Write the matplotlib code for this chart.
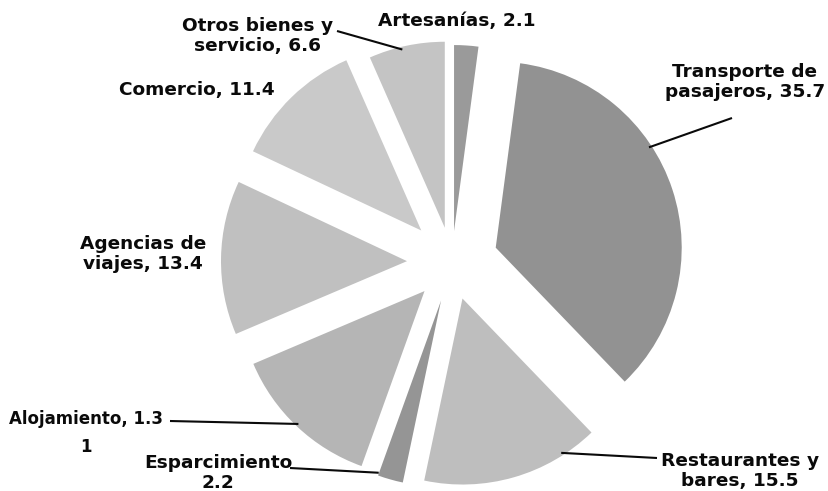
import math
import matplotlib
matplotlib.use("Agg")
import matplotlib.pyplot as plt

# ---- data (clockwise from 12 o'clock) ----
categories = ["Artesanías", "Transporte de pasajeros", "Restaurantes y bares",
              "Esparcimiento", "Alojamiento", "Agencias de viajes",
              "Comercio", "Otros bienes y servicio"]
values = [2.1, 35.7, 15.5, 2.2, 13.1, 13.4, 11.4, 6.6]
label_texts = ["Artesanías, 2.1", "Transporte de\npasajeros, 35.7",
               "Restaurantes y\nbares, 15.5", "Esparcimiento\n2.2",
               "Alojamiento, 1.3\n1", "Agencias de\nviajes, 13.4",
               "Comercio, 11.4", "Otros bienes y\nservicio, 6.6"]

# ---- style ----
colors = ["#9a9a9a", "#929292", "#bebebe", "#959595",
          "#b5b5b5", "#c0c0c0", "#c9c9c9", "#c4c4c4"]
explode_px = [31, 46, 38, 40, 40, 45, 44, 35]
label_sizes = [13.3, 13.3, 13.3, 13.3, 12.0, 13.3, 13.3, 13.3]
label_spacing = [1.12, 1.12, 1.12, 1.12, 1.65, 1.12, 1.12, 1.12]

W, H = 829, 491
fig = plt.figure(figsize=(W / 100, H / 100), dpi=100)
ax = fig.add_axes([0, 0, 1, 1])

R = 186
wedges, _ = ax.pie(values, colors=colors, explode=explode_px, radius=R,
                   center=(452, H - 262), startangle=90, counterclock=False,
                   wedgeprops=dict(linewidth=0), frame=True)
ax.set_xlim(0, W)
ax.set_ylim(0, H)
ax.axis("off")

# label centres (image px) and leader info (math angle on wedge, line start)
label_pos = [(457, 21), (745, 82), (740, 471), (218, 473),
             (86, 433), (143, 254), (197, 90), (258, 36)]
leaders = {
    1: (33.2, (732, 118)),
    2: (-57.4, (657, 458)),
    3: (250.1, (290, 468)),
    4: (226.5, (170, 421)),
    7: (103.4, (337, 31)),
}

for i, (txt, (px, py)) in enumerate(zip(label_texts, label_pos)):
    ax.text(px, H - py, txt, family="DejaVu Sans", fontweight="bold",
            fontsize=label_sizes[i], color="#0a0a0a", ha="center",
            va="center", multialignment="center",
            linespacing=label_spacing[i])
    if i in leaders:
        ang, (sx, sy) = leaders[i]
        w = wedges[i]
        cx, cy = w.center
        ex = cx + w.r * 0.985 * math.cos(math.radians(ang))
        ey = cy + w.r * 0.985 * math.sin(math.radians(ang))
        ax.plot([sx, ex], [H - sy, ey], color="#0a0a0a", lw=1.5,
                solid_capstyle="butt")

fig.savefig("out.png", dpi=100, facecolor="white")
